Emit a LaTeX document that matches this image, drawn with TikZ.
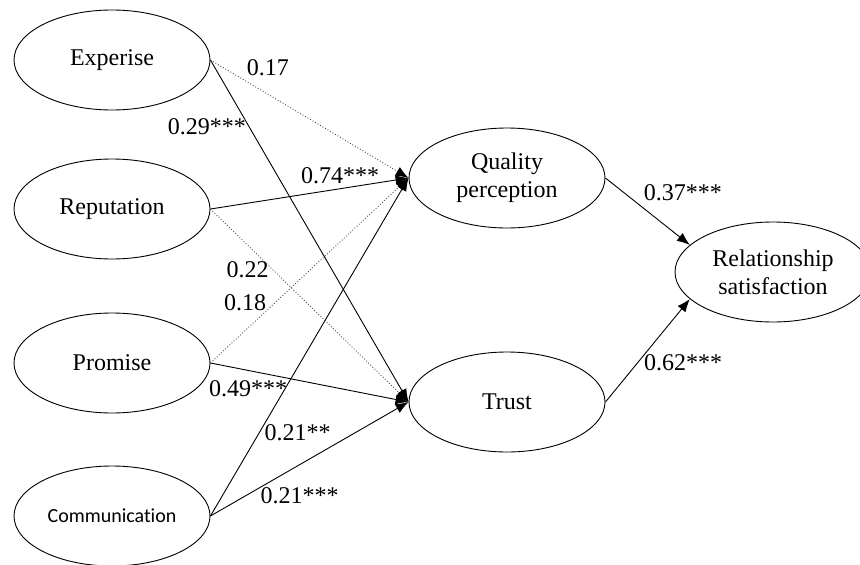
\documentclass[tikz,border=0pt]{standalone}
\usepackage{fontspec}
\setmainfont{Liberation Serif}
\newfontfamily\calibrifont[Ligatures=NoCommon]{Carlito}
\usetikzlibrary{shapes.geometric, arrows.meta}
\tikzstyle{latent} = [ellipse, minimum width=196pt, minimum height=100pt, inner sep=0pt, text centered, align=center, draw=black, line width=0.9pt, font=\fontsize{24}{28}\selectfont]
\tikzstyle{arrow} = [line width=0.9pt, -{Latex[length=13pt, width=10pt]}]
\tikzstyle{dotarrow} = [line width=0.9pt, dotted, draw=black!70, -{Latex[length=13pt, width=10pt, color=black]}]
\tikzstyle{coef} = [inner sep=0pt, font=\fontsize{24}{28}\selectfont]

\begin{document}
\begin{tikzpicture}[x=1pt, y=-1pt, node distance=152pt]
\useasboundingbox (0,0) rectangle (860,565);
\node (exp) [latent] at (112,60) {Experise};
\node (rep) [latent, below of = exp, yshift = 3pt]{Reputation};
\node (pro) [latent, below of = rep, yshift = -2pt]{Promise};
\node (com) [latent, below of = pro, yshift = -1pt]{\calibrifont\fontsize{20}{24}\selectfont Communication};
\node (qual) [latent, right of = rep, xshift = 243pt, yshift = 31pt]{Quality\\perception};
\node (trust) [latent, right of = pro, xshift = 243pt, yshift = -39pt]{Trust};
\node (rel) [latent, right of = qual, xshift = 114pt, yshift = -94pt]{Relationship\\satisfaction};
\draw [dotarrow] (exp.east) -- node[coef, pos=0.29, above=18pt]{0.17} (qual.west);
\draw [arrow] (exp.east) -- node[coef, pos=0.196, anchor=east, xshift=-3pt]{0.29***} (trust.west);
\draw [arrow] (rep.east) -- node[coef, pos=0.655, above=4pt]{0.74***} (qual.west);
\draw [dotarrow] (rep.east) -- node[coef, pos=0.316, anchor=east, xshift=-4pt]{0.22} (trust.west);
\draw [dotarrow] (pro.east) -- node[coef, pos=0.324, anchor=east, xshift=-8pt]{0.18} (qual.west);
\draw [arrow] (pro.east) -- node[coef, pos=0.19, below=10pt]{0.49***} (trust.west);
\draw [arrow] (com.east) -- node[coef, pos=0.246, anchor=west, xshift=5pt]{0.21**} (qual.west);
\draw [arrow] (com.east) -- node[coef, pos=0.45, below=22pt]{0.21***} (trust.west);
\draw [arrow] (qual.east) -- node[coef, pos=0.45, anchor=south west, yshift=7pt]{0.37***} (rel.162);
\draw [arrow] (trust.east) -- node[coef, pos=0.382, anchor=west, xshift=6pt]{0.62***} (rel.198);
\end{tikzpicture}
\end{document}
